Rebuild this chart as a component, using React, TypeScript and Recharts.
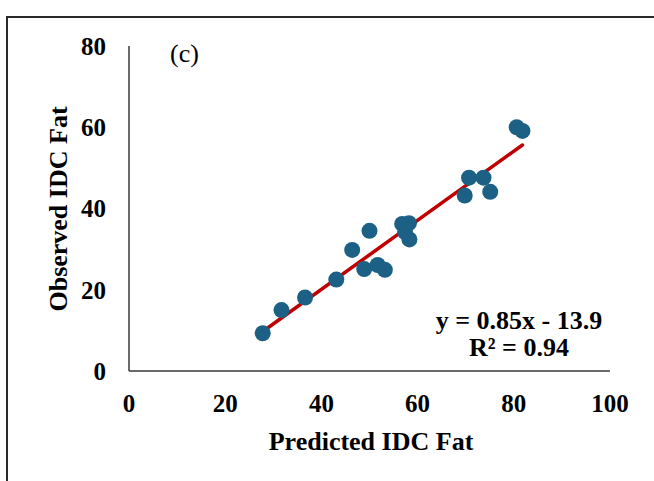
import { ScatterChart, Scatter, XAxis, YAxis, ReferenceLine, Customized } from 'recharts';

// predicted vs observed IDC fat
const predicted = [27.8, 31.7, 36.6, 43.1, 46.4, 50.0, 48.9, 51.7, 53.2, 56.8, 58.2, 57.4, 58.3, 69.8, 70.7, 73.7, 75.1, 80.6, 81.8];
const observed = [9.3, 15.0, 18.1, 22.5, 29.8, 34.5, 25.1, 26.1, 24.9, 36.2, 36.4, 34.2, 32.4, 43.2, 47.6, 47.6, 44.1, 60.0, 59.1];

const xTicks = [0, 20, 40, 60, 80, 100];
const yTicks = [0, 20, 40, 60, 80];

// regression shown on the plot
const slope = 0.85;
const intercept = -13.9;
const trendRange = [27.8, 81.8];

const points = predicted.map((x, i) => ({ x, y: observed[i] }));

const FONT = '"Liberation Serif", "Times New Roman", serif';
const DOT = '#1C6185';

const tickStyle = { fill: '#000', fontSize: 25, fontWeight: 'bold', fontFamily: FONT };

function Dot(props: any) {
  return <circle cx={props.cx} cy={props.cy} r={8} fill={DOT} />;
}

function Annotations() {
  return (
    <g fontFamily={FONT} fill="#000">
      <text x={170} y={62} fontSize={26}>(c)</text>
      <text x={519} y={329} fontSize={26} fontWeight="bold" textAnchor="middle">y = 0.85x - 13.9</text>
      <text x={519} y={356} fontSize={26} fontWeight="bold" textAnchor="middle">R² = 0.94</text>
      <text x={371} y={450} fontSize={26} fontWeight="bold" textAnchor="middle">Predicted IDC Fat</text>
      <text x={67} y={209} fontSize={26} fontWeight="bold" textAnchor="middle" transform="rotate(-90 67 209)">Observed IDC Fat</text>
    </g>
  );
}

export default function App() {
  return (
    <div style={{ position: 'absolute', left: 0, top: 0, width: 654, height: 481, overflow: 'hidden', background: '#fff' }}>
      <div style={{ position: 'absolute', left: 6, top: 16, width: 700, height: 520, border: '2px solid #2a2a2a', boxSizing: 'border-box' }} />
      <div style={{ position: 'absolute', left: 0, top: 0 }}>
        <ScatterChart width={654} height={481} margin={{ top: 46, right: 44, bottom: 80, left: 69 }}>
          <XAxis
            type="number"
            dataKey="x"
            domain={[0, 100]}
            ticks={xTicks}
            interval={0}
            tickLine={false}
            tickSize={0}
            tickMargin={23}
            tick={tickStyle}
            axisLine={{ stroke: '#3a3a3a', strokeWidth: 1.5 }}
            height={30}
          />
          <YAxis
            type="number"
            dataKey="y"
            domain={[0, 80]}
            ticks={yTicks}
            interval={0}
            tickLine={false}
            tickSize={0}
            tickMargin={23}
            tick={tickStyle}
            axisLine={{ stroke: '#3a3a3a', strokeWidth: 1.5 }}
            width={60}
          />
          <Scatter data={points} shape={<Dot />} isAnimationActive={false} />
          <ReferenceLine
            segment={trendRange.map((x) => ({ x, y: slope * x + intercept }))}
            stroke="#C00000"
            strokeWidth={3.5}
            strokeLinecap="round"
          />
          <Customized component={Annotations} />
        </ScatterChart>
      </div>
    </div>
  );
}
